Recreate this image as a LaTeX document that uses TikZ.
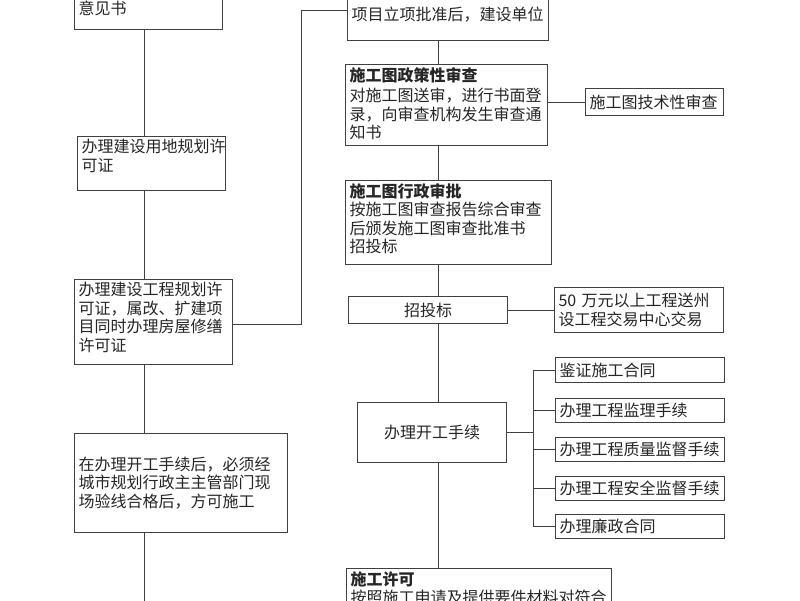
\documentclass[tikz,border=0pt]{standalone}
\usepackage{fontspec}
\setmainfont{Noto Sans CJK SC}
\usetikzlibrary{shadows}
\newcommand\bt[3]{\parbox[t][\dimexpr#2pt-6pt\relax][t]{\dimexpr#1pt-8pt\relax}{\raggedright#3}}
\tikzset{
  box/.style={draw=black!75, line width=1pt, fill=white, inner xsep=4pt, inner ysep=3pt,
    anchor=north west, font=\fontsize{16}{18.5}\selectfont, text=black!85,
    drop shadow={shadow xshift=0.8pt, shadow yshift=-0.8pt, fill=black!40, opacity=1}},
  cbox/.style={box, align=center},
  lbox/.style={box, align=left},
  link/.style={draw=black!75, line width=1pt},
}
\begin{document}
\begin{tikzpicture}[x=1pt, y=-1pt]
\useasboundingbox (0,0) rectangle (800,600);
\fill[white] (0,0) rectangle (800,600);

% column guides
\coordinate (lx) at (144.5,0);
\coordinate (rx) at (438.5,0);
\coordinate (bx) at (533,0);
\coordinate (k1) at (301,324);
\coordinate (k2) at (301,10);
\coordinate (lend) at (144.5,606);

% left column
\node[box] (A) at (74,-3) {\bt{148}{32}{意见书}};
\node[box] (B) at (77,136) {\bt{148}{54}{办理建设用地规划许\\可证}};
\node[box] (C) at (74,279) {\bt{158}{85}{办理建设工程规划许\\可证，属改、扩建项\\目同时办理房屋修缮\\许可证}};
\node[lbox, text width=205pt, minimum height=99pt] (D) at (74,433) {在办理开工手续后，必须经\\城市规划行政主主管部门现\\场验线合格后，方可施工};

% right column
\node[box] (E) at (347,-8) {\bt{201}{48}{\vspace*{11pt}项目立项批准后，建设单位}};
\node[box] (F) at (345,64) {\bt{202}{81}{\textbf{施工图政策性审查}\\[2pt]对施工图送审，进行书面登\\录，向审查机构发生审查通\\知书}};
\node[lbox, text width=130pt, minimum height=27pt] (G) at (585,88) {施工图技术性审查};
\node[box] (H) at (345,180) {\bt{206}{84}{\textbf{施工图行政审批}\\按施工图审查报告综合审查\\后颁发施工图审查批准书\\招投标}};
\node[cbox, minimum width=159pt, minimum height=27pt] (J) at (348,296) {招投标};
\node[lbox, text width=161pt, minimum height=45pt] (M) at (554,287) {50 万元以上工程送州\\设工程交易中心交易};
\node[cbox, minimum width=149pt, minimum height=60pt] (K) at (357,402) {办理开工手续};
\node[lbox, text width=161pt, minimum height=25pt] (L1) at (555,357) {鉴证施工合同};
\node[lbox, text width=161pt, minimum height=24pt] (L2) at (555,398) {办理工程监理手续};
\node[lbox, text width=161pt, minimum height=24pt] (L3) at (555,437) {办理工程质量监督手续};
\node[lbox, text width=161pt, minimum height=24pt] (L4) at (555,476) {办理工程安全监督手续};
\node[lbox, text width=161pt, minimum height=24pt] (L5) at (555,514) {办理廉政合同};
\node[box] (N) at (346,568) {\bt{265}{52}{\textbf{施工许可}\\按照施工申请及提供要件材料对符合}};

% connectors, left column
\draw[link] (A.south -| lx) -- (B.north -| lx);
\draw[link] (B.south -| lx) -- (C.north -| lx);
\draw[link] (C.south -| lx) -- (D.north -| lx);
\draw[link] (D.south -| lx) -- (lend);
\draw[link] (C.east |- k1) -- (k1) -- (k2) -- (E.west |- k2);

% connectors, right column
\draw[link] (E.south -| rx) -- (F.north -| rx);
\draw[link] (F.south -| rx) -- (H.north -| rx);
\draw[link] (H.south -| rx) -- (J.north -| rx);
\draw[link] (J.south -| rx) -- (K.north -| rx);
\draw[link] (K.south -| rx) -- (N.north -| rx);
\draw[link] (F.east |- G.west) -- (G.west);
\draw[link] (J.east) -- (J.east -| M.west);

% branch
\draw[link] (K.east) -- (K.east -| bx);
\draw[link] (L1.west -| bx) -- (L5.west -| bx);
\foreach \n in {L1,L2,L3,L4,L5} \draw[link] (\n.west -| bx) -- (\n.west);
\end{tikzpicture}
\end{document}
